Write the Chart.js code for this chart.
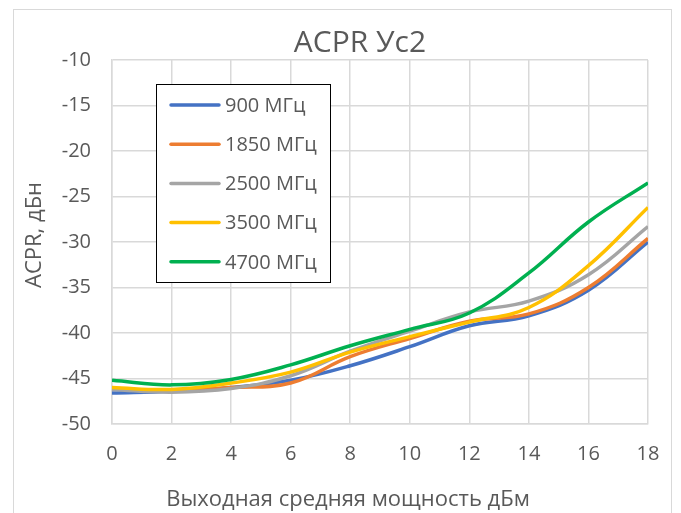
<!DOCTYPE html>
<html>
<head>
<meta charset="utf-8">
<script src="https://cdn.jsdelivr.net/npm/chart.js@4"></script>
<style>
  html, body { margin: 0; padding: 0; background: #fff; }
  #acprChart { display: block; }
</style>
</head>
<body>
<canvas id="acprChart" width="681" height="513"></canvas>
<script>
    const powerLevels = [0, 2, 4, 6, 8, 10, 12, 14, 16, 18];
    const seriesNames = ["900 МГц", "1850 МГц", "2500 МГц", "3500 МГц", "4700 МГц"];
    const acpr900 = [-46.6, -46.4, -46.0, -45.2, -43.6, -41.5, -39.2, -38.1, -35.3, -30.0];
    const acpr1850 = [-46.1, -46.3, -46.0, -45.5, -42.6, -40.6, -38.7, -37.9, -35.0, -29.6];
    const acpr2500 = [-46.2, -46.5, -46.1, -44.7, -42.0, -39.8, -37.7, -36.5, -33.6, -28.3];
    const acpr3500 = [-46.0, -46.2, -45.5, -44.3, -42.1, -40.4, -38.8, -37.2, -32.6, -26.2];
    const acpr4700 = [-45.2, -45.7, -45.1, -43.5, -41.4, -39.6, -37.8, -33.4, -27.8, -23.5];
    const seriesColors = ["#4472C4", "#ED7D31", "#A5A5A5", "#FFC000", "#00B050"];

    const chartTitle = "ACPR Ус2";
    const xTitle = "Выходная средняя мощность дБм";
    const yTitle = "ACPR, дБн";
    const fontFamily = "'Open Sans', sans-serif";
    const textColor = "#595959";

    function toPoints(values) {
        return values.map((v, i) => ({ x: powerLevels[i], y: v }));
    }

    const allSeries = [acpr900, acpr1850, acpr2500, acpr3500, acpr4700];

    // frame, titles and the boxed legend, drawn like the Excel original
    const excelDecor = {
        id: "excelDecor",
        beforeDraw(chart) {
            const ctx = chart.ctx;
            ctx.save();
            ctx.fillStyle = "#fff";
            ctx.fillRect(0, 0, chart.width, chart.height);
            ctx.strokeStyle = "#d9d9d9";
            ctx.lineWidth = 1;
            ctx.strokeRect(13.5, 9.5, 658, 520);
            ctx.restore();
        },
        afterDraw(chart) {
            const ctx = chart.ctx;
            ctx.save();
            ctx.fillStyle = textColor;
            ctx.textAlign = "center";
            ctx.textBaseline = "middle";

            ctx.font = "30px " + fontFamily;
            ctx.fillText(chartTitle, 360, 43);

            ctx.font = "22px " + fontFamily;
            ctx.fillText(xTitle, 348, 500);

            ctx.save();
            ctx.translate(35, 235);
            ctx.rotate(-Math.PI / 2);
            ctx.fillText(yTitle, 0, 0);
            ctx.restore();

            // legend box
            const bx = 156, by = 84, bw = 174, bh = 198;
            ctx.fillStyle = "#fff";
            ctx.fillRect(bx, by, bw, bh);
            ctx.strokeStyle = "#000";
            ctx.lineWidth = 1;
            ctx.strokeRect(bx + 0.5, by + 0.5, bw, bh);

            ctx.font = "20px " + fontFamily;
            ctx.textAlign = "left";
            chart.data.datasets.forEach((ds, i) => {
                const y = 105 + i * 39.2;
                ctx.strokeStyle = ds.borderColor;
                ctx.lineWidth = 3.5;
                ctx.lineCap = "round";
                ctx.beginPath();
                ctx.moveTo(171, y);
                ctx.lineTo(219, y);
                ctx.stroke();
                ctx.fillStyle = textColor;
                ctx.fillText(ds.label, 225, y + 1);
            });
            ctx.restore();
        }
    };

    const ctx = document.getElementById("acprChart").getContext("2d");

    new Chart(ctx, {
        type: "line",
        data: {
            datasets: seriesNames.map((name, i) => ({
                label: name,
                data: toPoints(allSeries[i]),
                borderColor: seriesColors[i],
                backgroundColor: seriesColors[i],
                borderWidth: 3.5,
                pointRadius: 0,
                tension: 0.4,
                fill: false,
                order: seriesNames.length - i,
            })),
        },
        options: {
            responsive: false,
            animation: false,
            layout: { padding: { top: 60, right: 33, bottom: 0, left: 0 } },
            plugins: {
                legend: { display: false },
                title: { display: false },
                tooltip: { enabled: false },
            },
            scales: {
                x: {
                    type: "linear",
                    min: 0,
                    max: 18,
                    afterFit: (s) => { s.height = 89; },
                    ticks: { stepSize: 2, padding: 18, color: textColor, font: { size: 20, family: fontFamily } },
                    grid: { color: "#d9d9d9", lineWidth: 1.5, drawTicks: false },
                    border: { color: "#d9d9d9", width: 1.5 },
                },
                y: {
                    min: -50,
                    max: -10,
                    afterFit: (s) => { s.width = 112; },
                    ticks: { stepSize: 5, padding: 21, color: textColor, font: { size: 20, family: fontFamily } },
                    grid: { color: "#d9d9d9", lineWidth: 1.5, drawTicks: false },
                    border: { color: "#d9d9d9", width: 1.5 },
                },
            },
        },
        plugins: [excelDecor],
    });
</script>
</body>
</html>
